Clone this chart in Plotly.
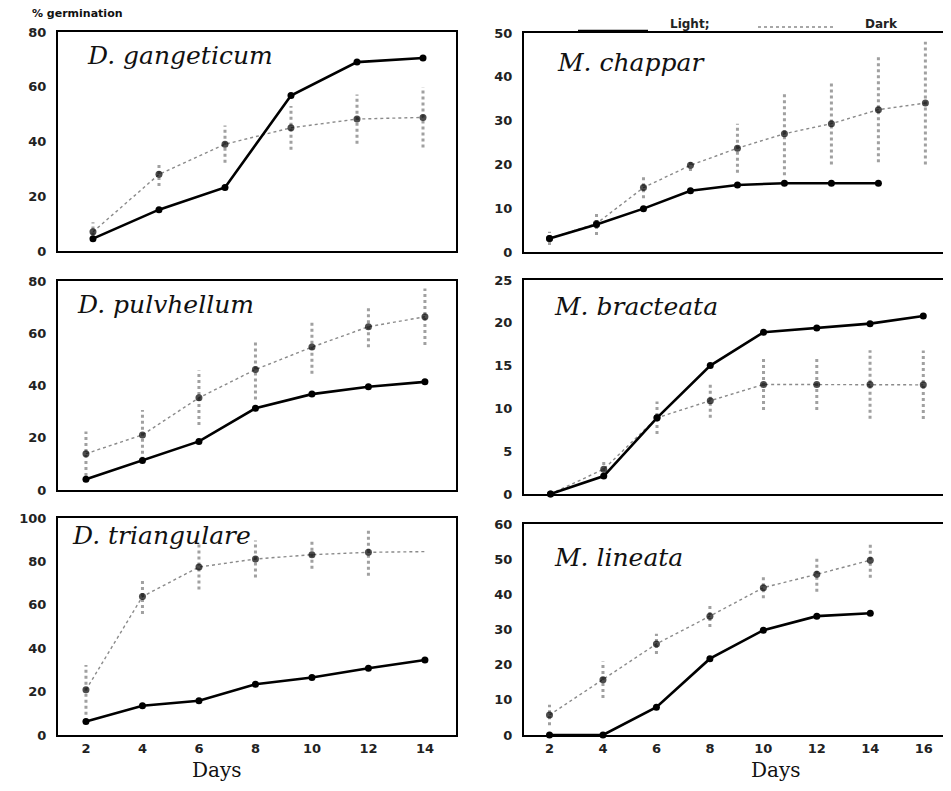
import plotly.graph_objects as go

# ---------------- data ----------------
dg_days = [2, 4, 6, 8, 10, 12]
dg_light = [4.5, 15.1, 23.2, 56.8, 69.0, 70.5]
dg_dark = [7.0, 28.0, 39.0, 45.0, 48.2, 48.8]
dg_err = [3.5, 4.3, 6.8, 8.0, 9.0, 11.0]

mc_days = [2, 4, 6, 8, 10, 12, 14, 16, 18]
mc_light = [3.1, 6.3, 9.9, 14.0, 15.3, 15.7, 15.7, 15.7]
mc_dark = [3.1, 6.5, 14.7, 19.8, 23.7, 27.0, 29.3, 32.5, 34.0]
mc_err = [1.5, 2.6, 2.4, 1.3, 5.6, 9.5, 9.3, 12.0, 14.0]

dp_days = [2, 4, 6, 8, 10, 12, 14]
dp_light = [4.1, 11.3, 18.6, 31.3, 36.7, 39.5, 41.4]
dp_dark = [13.9, 21.1, 35.3, 46.1, 54.7, 62.5, 66.3]
dp_err = [8.5, 9.5, 10.4, 11.5, 10.2, 7.9, 10.8]

mb_days = [2, 4, 6, 8, 10, 12, 14, 16]
mb_light = [0, 2.1, 8.9, 15.0, 18.9, 19.4, 19.9, 20.8]
mb_dark = [0, 2.9, 8.9, 10.9, 12.8, 12.8, 12.8, 12.75]
mb_err = [0, 0.9, 1.9, 2.0, 3.0, 3.0, 4.0, 4.0]

dt_days = [2, 4, 6, 8, 10, 12, 14]
dt_light = [6.2, 13.5, 15.8, 23.4, 26.5, 30.8, 34.6]
dt_dark = [20.8, 63.8, 77.4, 81.1, 83.1, 84.2, 84.5]
dt_err = [11.5, 8.0, 10.4, 8.5, 6.5, 10.8, 0]

ml_days = [2, 4, 6, 8, 10, 12, 14]
ml_light = [0, 0, 7.9, 21.7, 29.8, 33.8, 34.6]
ml_dark = [5.7, 15.7, 25.9, 33.8, 41.9, 45.7, 49.7]
ml_err = [2.9, 5.2, 2.9, 3.1, 3.0, 5.0, 5.0]

species = ["D. gangeticum", "M. chappar", "D. pulvhellum",
           "M. bracteata", "D. triangulare", "M. lineata"]
y_max = [80, 50, 80, 25, 100, 60]
y_step = [20, 10, 20, 5, 20, 10]
x_ticks_left = [2, 4, 6, 8, 10, 12, 14]
x_ticks_right = [2, 4, 6, 8, 10, 12, 14, 16]
legend_names = ["Light;", "Dark"]

# ---------------- layout geometry ----------------
# page is 951x791 with an 8px body margin, so the figure is 935x775
OFF = 8
W, H = 951 - 2 * OFF, 791 - 2 * OFF


def px(x):
    return min(max((x - OFF) / W, 0), 1)


def py(y):
    return min(max(1 - (y - OFF) / H, 0), 1)


panels = [
    dict(d=dg_days, l=dg_light, k=dg_dark, e=dg_err, xr=[0.94, 13.0], box=(58, 456, 32, 251), t=(85, 55)),
    dict(d=mc_days, l=mc_light, k=mc_dark, e=mc_err, xr=[0.914, 18.75], box=(524, 950, 33, 252), t=(555, 62)),
    dict(d=dp_days, l=dp_light, k=dp_dark, e=dp_err, xr=[1.01, 15.10], box=(58, 456, 281, 490), t=(75, 304)),
    dict(d=mb_days, l=mb_light, k=mb_dark, e=mb_err, xr=[1.005, 16.74], box=(524, 950, 280, 494), t=(552, 307)),
    dict(d=dt_days, l=dt_light, k=dt_dark, e=dt_err, xr=[1.01, 15.10], box=(58, 456, 518, 735), t=(70, 535)),
    dict(d=ml_days, l=ml_light, k=ml_dark, e=ml_err, xr=[1.046, 16.72], box=(524, 950, 524, 735), t=(552, 557)),
]

fig = go.Figure()
tick_font = dict(family="DejaVu Sans", size=13, color="#222", weight="bold")
DARK_LINE = dict(color="#8a8a8a", width=1.4, dash="dot")
LIGHT_LINE = dict(color="black", width=2.6)

for i, p in enumerate(panels):
    n = i + 1
    xa = "x" if n == 1 else f"x{n}"
    ya = "y" if n == 1 else f"y{n}"
    ex, ey = [], []
    for d, v, e in zip(p["d"], p["k"], p["e"]):
        if e > 0:
            ex += [d, d, None]
            ey += [v - e, v + e, None]
    fig.add_trace(go.Scatter(x=ex, y=ey, mode="lines", xaxis=xa, yaxis=ya,
                             line=dict(color="#a0a0a0", width=3, dash="dot"),
                             showlegend=False, hoverinfo="skip"))
    msz = [7] * len(p["k"])
    if i == 4:
        msz[-1] = 0
    fig.add_trace(go.Scatter(x=p["d"][:len(p["k"])], y=p["k"], mode="lines+markers",
                             xaxis=xa, yaxis=ya, cliponaxis=False, line=DARK_LINE,
                             marker=dict(color="black", size=msz, line=dict(width=0)),
                             showlegend=False, name="Dark"))
    fig.add_trace(go.Scatter(x=p["d"][:len(p["l"])], y=p["l"], mode="lines+markers",
                             xaxis=xa, yaxis=ya, cliponaxis=False, line=LIGHT_LINE,
                             marker=dict(color="black", size=7, line=dict(width=0)),
                             showlegend=False, name="Light"))

    L, R, T, B = p["box"]
    bottom_row = n in (5, 6)
    xt = x_ticks_left if n % 2 == 1 else x_ticks_right
    fig.layout[f"xaxis{'' if n == 1 else n}"] = dict(
        domain=[px(L), px(R)], range=p["xr"], anchor=ya,
        showline=True, mirror=True, linecolor="black", linewidth=2,
        showgrid=False, zeroline=False, ticks="", automargin=False,
        tickmode="array", tickvals=xt, ticktext=[str(v) for v in xt],
        showticklabels=bottom_row, tickfont=tick_font, ticklabelstandoff=0,
    )
    fig.layout[f"yaxis{'' if n == 1 else n}"] = dict(
        domain=[py(B), py(T)], range=[0, y_max[i]], anchor=xa,
        showline=True, mirror=True, linecolor="black", linewidth=2,
        showgrid=False, zeroline=False, ticks="", automargin=False,
        dtick=y_step[i], tick0=0, tickfont=tick_font, ticklabelstandoff=7,
    )
    fig.add_annotation(x=px(p["t"][0]), y=py(p["t"][1]), xref="paper", yref="paper",
                       xanchor="left", yanchor="middle", showarrow=False,
                       text=f"<i>{species[i]}</i>",
                       font=dict(family="DejaVu Serif", size=25, color="#111"))

# key (line samples + labels at the top right)
fig.add_shape(type="line", xref="paper", yref="paper",
              x0=px(578), x1=px(648), y0=py(31), y1=py(31), line=LIGHT_LINE)
fig.add_shape(type="line", xref="paper", yref="paper",
              x0=px(758), x1=px(835), y0=py(27), y1=py(27), line=DARK_LINE)
for name, lx in zip(legend_names, (668, 863)):
    fig.add_annotation(x=px(lx), y=py(24), xref="paper", yref="paper",
                       xanchor="left", yanchor="middle", showarrow=False, text=name,
                       font=dict(family="DejaVu Sans", size=12, color="#222", weight="bold"))

fig.add_annotation(x=px(30), y=py(13), xref="paper", yref="paper",
                   xanchor="left", yanchor="middle", showarrow=False,
                   text="% germination",
                   font=dict(family="DejaVu Sans", size=11, color="#111", weight="bold"))
for cx in (217, 776):
    fig.add_annotation(x=px(cx), y=0, xref="paper", yref="paper",
                       xanchor="center", yanchor="bottom", showarrow=False,
                       text="Days", borderpad=0,
                       font=dict(family="DejaVu Serif", size=20, color="#111"))

fig.update_layout(
    width=W, height=H, autosize=False,
    margin=dict(l=0, r=0, t=0, b=0, pad=0),
    paper_bgcolor="white", plot_bgcolor="white",
    showlegend=False,
)

fig.write_html("out.html")
